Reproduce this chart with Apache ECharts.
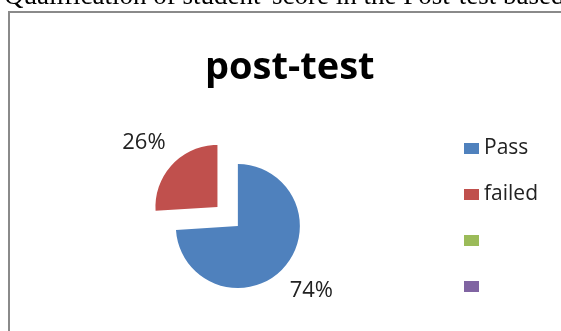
<!DOCTYPE html>
<html>
<head>
<meta charset="utf-8">
<script src="https://cdn.jsdelivr.net/npm/echarts@6/dist/echarts.min.js"></script>
<style>
  html, body { margin: 0; padding: 0; background: #fff; }
  #chart { width: 561px; height: 331px; }
</style>
</head>
<body>
<div id="chart"></div>
<script>
// slices, in drawing order (the two last entries are blank in the source legend)
const categories = ['Pass', 'failed', ' ', '  ']
const values = [74, 26, 0, 0]
const colors = ['#4F81BD', '#C0504D', '#9BBB59', '#8064A2']
// the failed slice is pulled out of the pie
const exploded = [false, true, false, false]

const caption = "Qualification of student' score in the Post-test based"
const chartTitle = 'post-test'

const chart = echarts.init(document.getElementById('chart'))

const pieData = categories.map((name, i) => ({
  name: name,
  value: values[i],
  selected: exploded[i],
  itemStyle: { color: colors[i] },
  label: { show: values[i] > 0 },
  labelLine: { show: false }
}))

const options = {
  animation: false,
  title: [
    {
      text: caption,
      left: -1,
      top: -22,
      textStyle: {
        fontFamily: 'Liberation Serif',
        fontSize: 27,
        fontWeight: 'normal',
        color: '#000'
      }
    },
    {
      text: chartTitle,
      left: 200,
      top: 44,
      textStyle: {
        fontFamily: 'Open Sans',
        fontSize: 38,
        fontWeight: 'bold',
        color: '#000'
      }
    }
  ],
  legend: {
    orient: 'vertical',
    left: 459,
    top: 133,
    itemWidth: 15,
    itemHeight: 11,
    itemGap: 25,
    icon: 'rect',
    data: categories,
    selectedMode: false,
    textStyle: {
      fontFamily: 'Open Sans',
      fontSize: 21,
      color: '#222'
    }
  },
  graphic: [
    {
      // frame of the embedded chart
      type: 'rect',
      shape: { x: 9, y: 12, width: 700, height: 500 },
      style: { fill: 'none', stroke: '#8a8a8a', lineWidth: 2 },
      z: -1
    }
  ],
  series: [
    {
      type: 'pie',
      center: ['42.4%', '68.3%'],
      radius: 62,
      startAngle: 90,
      clockwise: true,
      selectedMode: 'single',
      selectedOffset: 28,
      avoidLabelOverlap: false,
      emphasis: { disabled: true },
      label: {
        position: 'outside',
        formatter: p => p.value + '%',
        fontFamily: 'Open Sans',
        fontSize: 22,
        color: '#222'
      },
      labelLine: { show: false, length: 32, length2: 0 },
      labelLayout: { align: 'center' },
      data: pieData
    }
  ]
}

chart.setOption(options)
</script>
</body>
</html>
